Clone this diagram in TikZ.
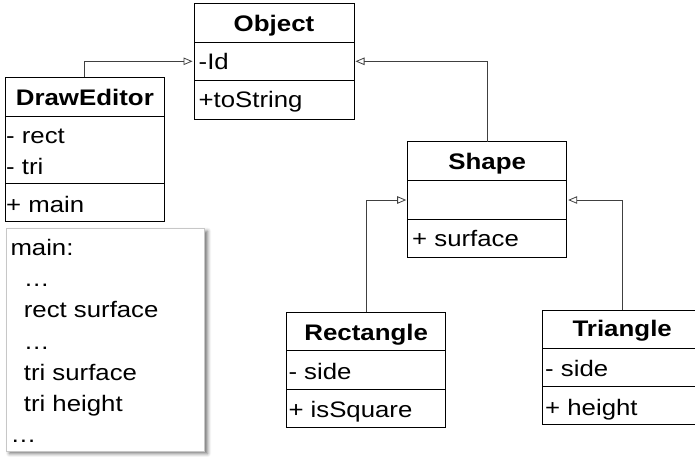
\documentclass[tikz,border=0pt]{standalone}
\usepackage{fontspec}
\setmainfont{Liberation Sans}[FakeStretch=1.15]
\usetikzlibrary{arrows.meta,shadows.blur}
\begin{document}
\begin{tikzpicture}[x=1pt,y=-1pt,
  cell/.style={draw=black, line width=0.9pt, inner sep=0pt, outer sep=0pt, fill=white},
  attr/.style={anchor=base west, inner sep=0pt, font=\fontsize{22.4}{26}\selectfont},
  ctitle/.style={anchor=base, inner sep=0pt, font=\fontsize{22.5}{26}\selectfont\bfseries},
  conn/.style={draw=black!75, line width=0.9pt, -{Triangle[open, length=9pt, width=7.5pt, line width=0.8pt]}, shorten >=1.5pt},
  notebox/.style={draw=black!22, line width=0.8pt, fill=white, inner sep=0pt, outer sep=0pt,
    blur shadow={shadow xshift=3.5pt, shadow yshift=-2.5pt, shadow blur radius=3.5pt, shadow opacity=55}},
]
\useasboundingbox (0,0) rectangle (695,456);
\clip (0,0) rectangle (695,456);

% Object
\node[cell, minimum width=160pt, minimum height=39pt] (obj) at (274,22.8) {};
\node[cell, minimum width=160pt, minimum height=38pt] (objA) at (274,61.3) {};
\node[cell, minimum width=160pt, minimum height=38.7pt] (objB) at (274,99.65) {};
\node[ctitle] (objT) at (274,31) {Object};
\node[attr] (objT1) at (198.5,69.3) {-Id};
\node[attr] (objT2) at (198.5,107.7) {+toString};

% DrawEditor
\node[cell, minimum width=158.3pt, minimum height=39pt] (de) at (84.85,96.8) {};
\node[cell, minimum width=158.3pt, minimum height=67pt] (deA) at (84.85,149.8) {};
\node[cell, minimum width=158.3pt, minimum height=38.4pt] (deB) at (84.85,202.5) {};
\node[ctitle] (deT) at (84.85,105.5) {DrawEditor};
\node[attr] (deT1) at (6,143.3) {- rect};
\node[attr] (deT2) at (6,174.3) {- tri};
\node[attr] (deT3) at (6,212.3) {+ main};

% Shape
\node[cell, minimum width=159pt, minimum height=39pt] (shp) at (487.2,161.2) {};
\node[cell, minimum width=159pt, minimum height=38.6pt] (shpA) at (487.2,200) {};
\node[cell, minimum width=159pt, minimum height=38pt] (shpB) at (487.2,238.3) {};
\node[ctitle] (shpT) at (487.2,169.3) {Shape};
\node[attr] (shpT1) at (412,246.7) {+ surface};

% Rectangle
\node[cell, minimum width=159pt, minimum height=38.4pt] (rct) at (366.2,331.5) {};
\node[cell, minimum width=159pt, minimum height=38.3pt] (rctA) at (366.2,369.85) {};
\node[cell, minimum width=159pt, minimum height=38.3pt] (rctB) at (366.2,408.15) {};
\node[ctitle] (rctT) at (366.2,340) {Rectangle};
\node[attr] (rctT1) at (288.3,379.3) {- side};
\node[attr] (rctT2) at (288.3,417.3) {+ isSquare};

% Triangle
\node[cell, minimum width=159pt, minimum height=38.3pt] (tri) at (622.2,329.15) {};
\node[cell, minimum width=159pt, minimum height=38.4pt] (triA) at (622.2,367.5) {};
\node[cell, minimum width=159pt, minimum height=37.6pt] (triB) at (622.2,405.5) {};
\node[ctitle] (triT) at (622.2,336.7) {Triangle};
\node[attr] (triT1) at (545,376.7) {- side};
\node[attr] (triT2) at (545,415) {+ height};

% Note
\node[notebox, minimum width=198pt, minimum height=222.5pt] (note) at (105,339.75) {};
\node[attr] (n1) at (10.3,255.5) {main:};
\node[attr] (n2) at (23.7,286.7) {…};
\node[attr] (n3) at (23.7,317.9) {rect surface};
\node[attr] (n4) at (23.7,349.1) {…};
\node[attr] (n5) at (23.7,380.3) {tri surface};
\node[attr] (n6) at (23.7,411.5) {tri height};
\node[attr] (n7) at (10.3,442.7) {…};

% Connectors
\draw[conn] (de.north) |- (objA.west);
\draw[conn] (shp.north) |- (objA.east);
\draw[conn] (rct.north) |- (shpA.west);
\draw[conn] (tri.north) |- (shpA.east);
\end{tikzpicture}
\end{document}
